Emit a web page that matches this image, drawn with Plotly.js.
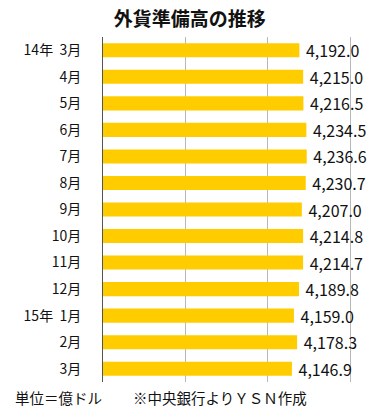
<!DOCTYPE html>
<html>
<head>
<meta charset="utf-8">
<script src="https://cdn.plot.ly/plotly-3.0.1.min.js"></script>
<style>html,body{margin:0;padding:0;background:#fff;}#chart{width:391px;height:412px;}</style>
</head>
<body>
<div id="chart"></div>
<script>
const categories = ["14年\u00a0\u00a03月","4月","5月","6月","7月","8月","9月","10月","11月","12月","15年\u00a0\u00a01月","2月","3月"];
const reserves = [4192.0, 4215.0, 4216.5, 4234.5, 4236.6, 4230.7, 4207.0, 4214.8, 4214.7, 4189.8, 4159.0, 4178.3, 4146.9];
const valueLabels = ["4,192.0","4,215.0","4,216.5","4,234.5","4,236.6","4,230.7","4,207.0","4,214.8","4,214.7","4,189.8","4,159.0","4,178.3","4,146.9"];
const titleText = "外貨準備高の推移";
const unitNote = "単位＝億ドル";
const sourceNote = "※中央銀行よりＹＳＮ作成";

const font = "'Noto Sans CJK JP', 'Noto Sans', sans-serif";

const trace = {
  type: "bar",
  orientation: "h",
  y: categories,
  x: reserves,
  text: valueLabels.map(function (s) { return "\u00a0" + s; }),
  textposition: "outside",
  constraintext: "none",
  cliponaxis: false,
  textfont: {family: font, size: 16, color: "#111"},
  marker: {color: "#FFCC00"},
  hoverinfo: "skip"
};

const layout = {
  width: 391, height: 412,
  margin: {l: 103, r: 31, t: 37, b: 30},
  paper_bgcolor: "#fff", plot_bgcolor: "#fff",
  bargap: 0.47,
  showlegend: false,
  font: {family: font, size: 14, color: "#111"},
  title: {
    text: "<b>" + titleText + "</b>",
    font: {family: font, size: 19, color: "#111"},
    xref: "container", yref: "container",
    x: 0.485, xanchor: "center",
    y: 0.952, yanchor: "middle"
  },
  xaxis: {
    range: [3000, 4560],
    dtick: 500, tick0: 3000,
    showticklabels: false,
    showgrid: true, gridcolor: "#b8b8b8", gridwidth: 1,
    zeroline: false, showline: false, ticks: "",
    fixedrange: true
  },
  yaxis: {
    autorange: "reversed",
    showline: true, linecolor: "#555", linewidth: 1,
    ticks: "", showgrid: false,
    ticklabelstandoff: 18,
    tickfont: {family: font, size: 14, color: "#111"},
    fixedrange: true
  },
  annotations: [
    {text: unitNote, xref: "paper", yref: "paper", x: (13-103)/257, y: -15/345, xanchor: "left", yanchor: "middle", showarrow: false, font: {family: font, size: 14.5, color: "#111"}},
    {text: sourceNote, xref: "paper", yref: "paper", x: (131-103)/257, y: -15/345, xanchor: "left", yanchor: "middle", showarrow: false, font: {family: font, size: 14.5, color: "#111"}}
  ]
};

Plotly.newPlot("chart", [trace], layout, {displayModeBar: false, staticPlot: true});
</script>
</body>
</html>
